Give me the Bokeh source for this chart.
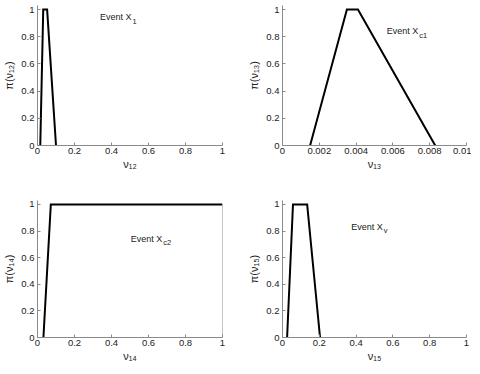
from bokeh.plotting import figure
from bokeh.layouts import column, row
from bokeh.models import Range1d, FixedTicker
from bokeh.core.properties import value
from bokeh.embed import file_html
from bokeh.resources import INLINE

# ---- data ----
y_ticks = [0, 0.2, 0.4, 0.6, 0.8, 1]
x_ticks_unit = [0, 0.2, 0.4, 0.6, 0.8, 1]
x_ticks_13 = [0, 0.002, 0.004, 0.006, 0.008, 0.01]

x12 = [0.015, 0.031, 0.052, 0.1]
y12 = [0, 1, 1, 0]

x13 = [0.0015, 0.0035, 0.0041, 0.0083]
y13 = [0, 1, 1, 0]

x14 = [0.032, 0.072, 1.0]
y14 = [0, 1, 1]

x15 = [0.025, 0.057, 0.134, 0.204]
y15 = [0, 1, 1, 0]

labels_x = ["ν₁₂", "ν₁₃", "ν₁₄", "ν₁₅"]
labels_y = ["π(ν₁₂)", "π(ν₁₃)", "π(ν₁₄)", "π(ν₁₅)"]
event_main = "Event X"
event_subs = ["1", "c1", "c2", "v"]
# annotation anchors (data coords, where "Event X" ends)
event_x = [0.508, 0.00738, 0.674, 0.545]
event_y = [0.944, 0.84, 0.742, 0.833]

FONT = "Liberation Sans"
AXIS_COLOR = "#8a8a8a"
TXT = "#222222"


def fmt(t):
    return f"{t:g}"


def make(xs, ys, xmax, xticks, xl, yl, ex, ey, sub, fw, fh,
         bl, br, bt):
    p = figure(frame_width=fw, frame_height=fh, output_backend="svg",
               toolbar_location=None,
               x_range=Range1d(0, xmax), y_range=Range1d(0, 1.03),
               min_border_left=bl, min_border_right=br,
               min_border_top=bt, min_border_bottom=0)
    p.outline_line_color = None
    p.grid.visible = False
    p.background_fill_color = "white"
    for ax in (p.xaxis[0], p.yaxis[0]):
        ax.axis_line_color = AXIS_COLOR
        ax.major_tick_line_color = AXIS_COLOR
        ax.major_tick_in = 3
        ax.major_tick_out = 0
        ax.minor_tick_line_color = None
        ax.major_label_text_font = FONT
        ax.major_label_text_font_size = "9.5px"
        ax.major_label_text_color = TXT
        ax.axis_label_text_font = FONT
        ax.axis_label_text_font_size = "11px"
        ax.axis_label_text_font_style = "normal"
        ax.axis_label_text_color = TXT
    p.xaxis[0].major_label_standoff = 2
    p.xaxis[0].axis_label_standoff = 1
    p.yaxis[0].major_label_standoff = 3
    p.yaxis[0].axis_label_standoff = 3
    p.xaxis[0].ticker = FixedTicker(ticks=xticks)
    p.xaxis[0].major_label_overrides = {t: fmt(t) for t in xticks}
    p.yaxis[0].ticker = FixedTicker(ticks=y_ticks)
    p.yaxis[0].major_label_overrides = {t: fmt(t) for t in y_ticks}
    p.xaxis[0].axis_label = xl
    p.yaxis[0].axis_label = yl

    p.line(xs, ys, line_color="black", line_width=2, line_join="miter")

    p.text([ex], [ey], text=[event_main], text_align="right",
           text_baseline="middle", text_font=value(FONT),
           text_font_size="9px", text_color=TXT)
    p.text([ex], [ey], text=[sub], text_align="left",
           text_baseline="middle", text_font=value(FONT),
           text_font_size="7.5px", text_color=TXT, x_offset=1, y_offset=4)
    return p


p1 = make(x12, y12, 1, x_ticks_unit, labels_x[0], labels_y[0],
          event_x[0], event_y[0], event_subs[0], 185, 140, 30, 15, 5)
p2 = make(x13, y13, 0.01, x_ticks_13, labels_x[1], labels_y[1],
          event_x[1], event_y[1], event_subs[1], 184, 140, 45, 5, 5)
p3 = make(x14, y14, 1, x_ticks_unit, labels_x[2], labels_y[2],
          event_x[2], event_y[2], event_subs[2], 185, 137, 30, 15, 28)
# right edge of the plateau in panel 3 (thin grey drop at the last sample)
p3.segment(x0=[x14[-1]], y0=[y14[0]], x1=[x14[-1]], y1=[y14[-1]],
           line_color=AXIS_COLOR, line_width=1)
p4 = make(x15, y15, 1, x_ticks_unit, labels_x[3], labels_y[3],
          event_x[3], event_y[3], event_subs[3], 184, 137, 45, 5, 28)

layout = column(row(p1, p2), row(p3, p4))
open("out.html", "w").write(file_html(layout, INLINE))
